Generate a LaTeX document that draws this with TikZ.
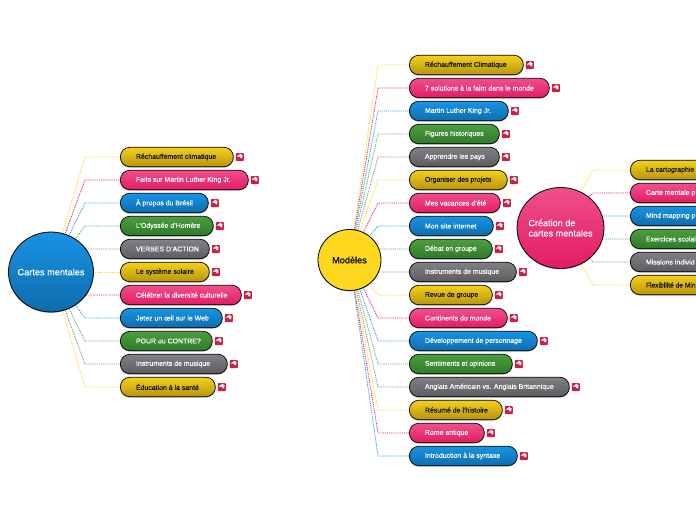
\documentclass[tikz,border=0pt]{standalone}
\usepackage{fontspec}
\usepackage{graphicx}
\setmainfont{Liberation Sans}[FakeBold=0.25]
\usetikzlibrary{shapes.geometric,shadows}
\pgfdeclarelayer{bg}\pgfsetlayers{bg,main}
\definecolor{yTop}{HTML}{F4D018}\definecolor{yBot}{HTML}{B8950F}\definecolor{yLine}{HTML}{FFD91F}\definecolor{yTxt}{HTML}{111111}
\definecolor{pTop}{HTML}{F0508C}\definecolor{pBot}{HTML}{E31B63}\definecolor{pLine}{HTML}{E91E63}\definecolor{pTxt}{HTML}{FFFFFF}
\definecolor{bTop}{HTML}{1793E6}\definecolor{bBot}{HTML}{0F6CAB}\definecolor{bLine}{HTML}{2196F3}\definecolor{bTxt}{HTML}{FFFFFF}
\definecolor{gTop}{HTML}{4C9E3E}\definecolor{gBot}{HTML}{2F7A2A}\definecolor{gLine}{HTML}{4CAF50}\definecolor{gTxt}{HTML}{FFFFFF}
\definecolor{nTop}{HTML}{808085}\definecolor{nBot}{HTML}{5C5C60}\definecolor{nLine}{HTML}{8A8A8A}\definecolor{nTxt}{HTML}{FFFFFF}
\definecolor{iconRed}{HTML}{CC1F45}
\tikzset{
  softshadow/.style={drop shadow={shadow xshift=0pt,shadow yshift=-.9pt,opacity=.3,fill=black}},
  pill/.style={draw=black,line width=.7pt,rounded corners=9.5pt,softshadow,shading=axis,top color=#1Top,bottom color=#1Bot,text=#1Txt,
    minimum height=19.5pt,anchor=west,inner sep=0pt,font=\fontsize{6.95}{8}\selectfont},
  conn/.style={draw=#1Line,line width=.8pt,dash pattern=on 1pt off .9pt},
  rootnode/.style={ellipse,draw=black,line width=.8pt,inner sep=0pt,softshadow},
  iconbox/.style={fill=iconRed,rounded corners=.8pt,minimum width=8pt,minimum height=8pt,inner sep=0pt},
  iconglyph/.style={fill=white,draw=none}
}
\newcommand{\makeicon}[2]{%
  \node[iconbox] (#1) at (#2) {};
  \fill[iconglyph] ([shift={(-3pt,.5pt)}]#1.center) -- ++(1.8pt,1.5pt) -- ++(.8pt,-1pt) -- ++(0pt,2.1pt) -- ++(1.9pt,0pt) -- ++(0pt,-1.4pt) -- ++(1.4pt,.2pt) -- ++(-.6pt,-1.9pt) -- ++(.3pt,-1.4pt) -- ++(-1.7pt,.4pt) -- ++(-1.1pt,1.3pt) -- cycle;}
\begin{document}
\begin{tikzpicture}[x=1pt,y=-1pt]
\useasboundingbox (0,0) rectangle (696,520);
\clip (0,0) rectangle (696,520);
% roots
\node[rootnode,minimum width=85pt,minimum height=80pt,shading=axis,top color=bTop,bottom color=bBot,text=white,font=\fontsize{9.2}{11}\selectfont] (rootA) at (51,272) {\makebox[0pt]{Cartes mentales}};
\node[rootnode,minimum width=63pt,minimum height=61pt,fill=yLine,text=black,font=\fontsize{9.2}{11}\selectfont] (rootB) at (349.5,260) {\makebox[0pt]{Modèles}};
\node[rootnode,minimum width=87pt,minimum height=81pt,shading=axis,top color=pTop,bottom color=pBot,text=white,font=\fontsize{9.1}{10.5}\selectfont] (rootC) at (560.5,228) {\makebox[0pt]{\shortstack[l]{Création de\\[.6pt]cartes mentales}}};
% left branch
\foreach \i/\k/\y/\r/\t in {
 1/y/157/233/Réchauffement climatique,
 2/p/180/248/Faits sur Martin Luther King Jr.,
 3/b/203/208/À propos du Brésil,
 4/g/226/213/L’Odyssée d’Homère,
 5/n/249/209/VERBES D’ACTION,
 6/y/272/209/Le système solaire,
 7/p/295/241/Célébrer la diversité culturelle,
 8/b/318/222/Jetez un œil sur le Web,
 9/g/341/212/POUR ou CONTRE?,
 10/n/364/227/Instruments de musique,
 11/y/387/215/Éducation à la santé}{
  \pgfmathsetmacro{\w}{\r-120}
  \coordinate (aE\i) at (85,\y);
  \node[pill=\k,minimum width=\w pt] (aP\i) at (120,\y) {\makebox[\w pt][l]{\hspace*{15.6pt}\t}};
  \begin{pgfonlayer}{bg}\draw[conn=\k] (rootA.center) -- (aE\i) -- (aP\i.west);\end{pgfonlayer}
  \makeicon{aI\i}{\r+6.8,\y}
}
% middle branch
\foreach \i/\k/\y/\r/\t in {
 1/y/65/523/Réchauffement Climatique,
 2/p/88/549/7 solutions à la faim dans le monde,
 3/b/111/508/Martin Luther King Jr.,
 4/g/134/499/Figures historiques,
 5/n/157/499/Apprendre les pays,
 6/y/180/507/Organiser des projets,
 7/p/203/500/Mes vacances d’été,
 8/b/226/493/Mon site internet,
 9/g/249/492/Débat en groupe,
 10/n/272/516/Instruments de musique,
 11/y/295/492/Revue de groupe,
 12/p/318/507/Continents du monde,
 13/b/341/537/Développement de personnage,
 14/g/364/512/Sentiments et opinions,
 15/n/387/569/Anglais Américain vs. Anglais Britannique,
 16/y/410/502/Résumé de l’histoire,
 17/p/433/484/Rome antique,
 18/b/456/517/Introduction à la syntaxe}{
  \pgfmathsetmacro{\w}{\r-409}
  \coordinate (bE\i) at (378,\y);
  \node[pill=\k,minimum width=\w pt] (bP\i) at (409,\y) {\makebox[\w pt][l]{\hspace*{15.6pt}\t}};
  \begin{pgfonlayer}{bg}\draw[conn=\k] (rootB.center) -- (bE\i) -- (bP\i.west);\end{pgfonlayer}
  \makeicon{bI\i}{\r+6.8,\y}
}
% right branch
\foreach \i/\k/\y/\t in {
 1/y/170/La cartographie,
 2/p/193/Carte mentale p,
 3/b/216/Mind mapping p,
 4/g/239/Exercices scolai,
 5/n/262/Missions individ,
 6/y/285/\scalebox{.96}[1]{Flexibilité de Min}}{
  \coordinate (cE\i) at (593,\y);
  \node[pill=\k,minimum width=100pt] (cP\i) at (630,\y) {\makebox[100pt][l]{\hspace*{15.6pt}\t}};
  \begin{pgfonlayer}{bg}\draw[conn=\k] (rootC.center) -- (cE\i) -- (cP\i.west);\end{pgfonlayer}
}
\end{tikzpicture}
\end{document}
